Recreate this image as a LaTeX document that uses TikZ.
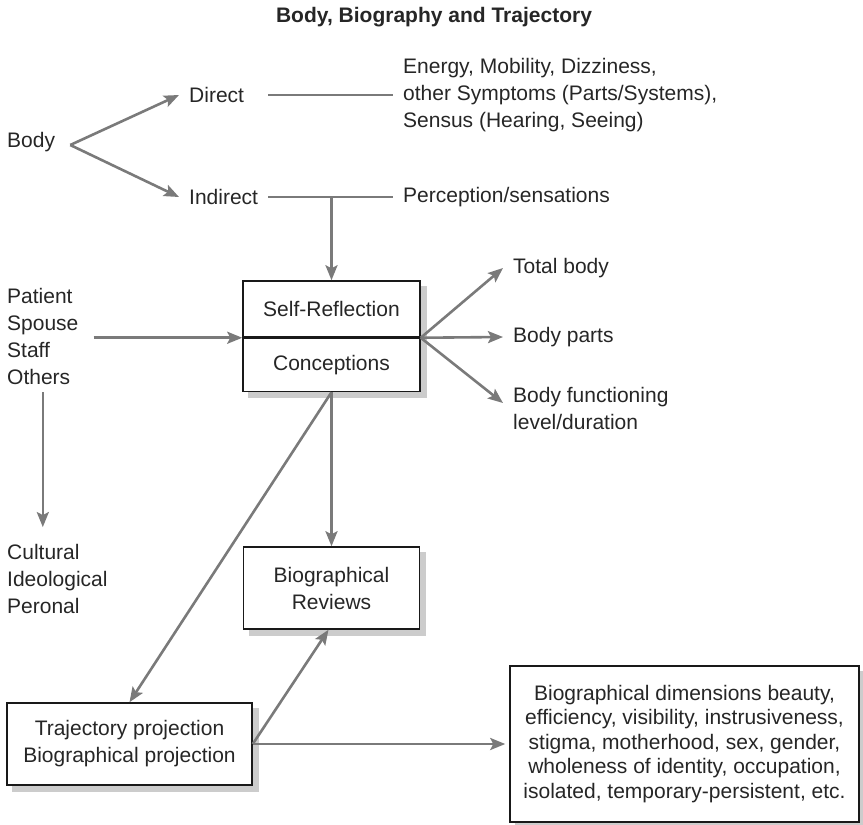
\documentclass[tikz,border=0pt]{standalone}
\usepackage{fontspec}
\setmainfont{Liberation Sans}
\usetikzlibrary{arrows.meta,backgrounds,calc}

\begin{document}
\begin{tikzpicture}[x=1pt,y=-1pt,
 txt/.style={inner xsep=10pt,inner ysep=4pt,anchor=west,align=left,text=black!85,font=\fontsize{21}{27}\selectfont},
 box/.style={draw=black!90,line width=1.5pt,fill=white,inner sep=0pt,align=center,text=black!85,font=\fontsize{21}{27}\selectfont},
 arr/.style={draw=black!52,line width=2.6pt,-{Stealth[length=15pt,width=12pt,inset=3pt]}},
 ln/.style={draw=black!52,line width=2.6pt},
 boxshade/.style={fill=black!20}]
\useasboundingbox (0,0) rectangle (863,825);

\node[txt,anchor=center,font=\bfseries\fontsize{21}{27}\selectfont] (title) at (434,17) {Body, Biography and Trajectory};

%top: body branches
\node[txt] (body) at (-3,142) {Body};
\node[txt] (direct) at (179,95) {Direct};
\node[txt] (indirect) at (179,197) {Indirect};
\node[txt] (symptoms) at (393,95) {Energy, Mobility, Dizziness,\\other Symptoms (Parts/Systems),\\Sensus (Hearing, Seeing)};
\node[txt] (percep) at (393,197) {Perception/sensations};

%middle
\node[txt] (patient) at (-3,336) {Patient\\Spouse\\Staff\\Others};
\node[txt] (cultural) at (-3,579) {Cultural\\Ideological\\Peronal};
\node[box,minimum width=177pt,minimum height=56pt] (selfref) at (331.5,309) {Self-Reflection};
\node[box,minimum width=177pt,minimum height=53pt,anchor=north] (concept) at (selfref.south) {Conceptions};
\node[txt] (totalbody) at (503,268) {Total body};
\node[txt] (bodyparts) at (503,337) {Body parts};
\node[txt] (bodyfunc) at (503,408) {Body functioning\\level/duration};

%bottom
\node[box,minimum width=176pt,minimum height=82pt] (reviews) at (331.5,588) {Biographical\\Reviews};
\node[box,minimum width=245pt,minimum height=82pt] (traj) at (129.5,744) {Trajectory projection\\Biographical projection};
\node[box,minimum width=349pt,minimum height=156pt,font=\fontsize{21}{24.5}\selectfont] (dims) at (684.5,744)
 {Biographical dimensions beauty,\\efficiency, visibility, instrusiveness,\\stigma, motherhood, sex, gender,\\wholeness of identity, occupation,\\isolated, temporary-persistent, etc.};

\begin{scope}[on background layer]
\foreach \n/\m in {selfref/concept,reviews/reviews,traj/traj,dims/dims}
 \fill[boxshade] ([shift={(6,6)}]\n.north west) rectangle ([shift={(6,6)}]\m.south east);
\end{scope}

\coordinate (split) at (selfref.north |- indirect.east);
\draw[arr] ([shift={(5,3)}]body.east) -- (direct.west);
\draw[arr] ([shift={(5,3)}]body.east) -- (indirect.west);
\draw[ln] (indirect.east |- direct.west) -- (symptoms.west);
\draw[ln] (indirect.east) -- (percep.west);
\draw[arr] (split) -- (selfref.north);

\draw[arr] ([xshift=5pt]patient.east |- concept.north west) -- (concept.north west);
\draw[arr] ([yshift=-4pt]patient.south) -- ($(patient.south |- cultural.north)+(0,-13)$);
\draw[arr] (concept.north east) -- (totalbody.west);
\draw[arr] (concept.north east) -- (bodyparts.west);
\draw[arr] (concept.north east) -- ([yshift=5pt]bodyfunc.west);

\draw[arr] (concept.south) -- (reviews.north);
\draw[arr] (concept.south) -- (traj.north);
\draw[arr] (traj.east) -- ([xshift=-3pt]reviews.south);
\draw[arr,shorten >=4pt] (traj.east) -- (dims.west);
\end{tikzpicture}
\end{document}
